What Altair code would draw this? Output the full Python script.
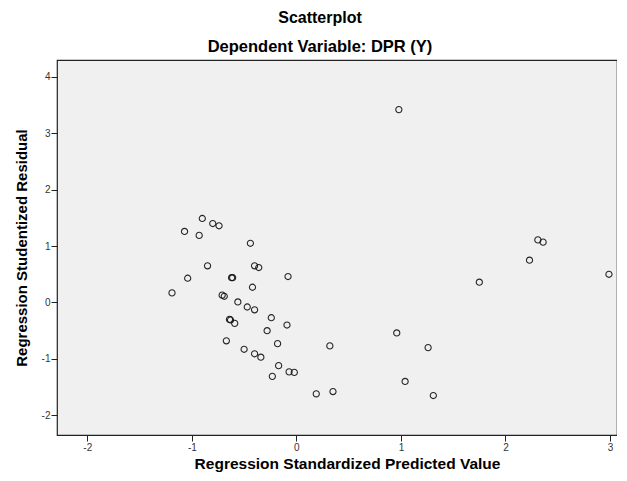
import altair as alt
import pandas as pd

pred = [0.98, -0.90, -0.80, -0.74, -1.07, -0.93, -0.44, -0.85, -0.40, -0.36,
        -1.04, -0.62, -0.61, -0.08, -0.42, -1.19, -0.71, -0.69, -0.56, -0.47,
        -0.40, -0.24, -0.09, -0.64, -0.63, -0.59, -0.28, -0.67, -0.18, -0.50,
        -0.40, -0.34, -0.17, -0.07, -0.02, -0.23, 0.19, 0.35, 0.32, 0.96,
        1.26, 1.04, 1.31, 1.75, 2.23, 2.31, 2.36, 2.99]
resid = [3.42, 1.49, 1.40, 1.36, 1.26, 1.19, 1.05, 0.65, 0.65, 0.62,
         0.43, 0.44, 0.44, 0.46, 0.27, 0.17, 0.13, 0.11, 0.01, -0.08,
         -0.13, -0.27, -0.40, -0.30, -0.31, -0.37, -0.50, -0.68, -0.73, -0.83,
         -0.91, -0.97, -1.12, -1.23, -1.24, -1.31, -1.62, -1.58, -0.77, -0.54,
         -0.80, -1.40, -1.65, 0.36, 0.75, 1.11, 1.07, 0.50]

df = pd.DataFrame({"pred": pred, "resid": resid})

FONT = "Liberation Sans"

chart = alt.Chart(df).mark_point(
    shape="circle", filled=False, color="#111111", strokeWidth=1.1, size=38, opacity=0.9
).encode(
    x=alt.X("pred:Q", title="Regression Standardized Predicted Value",
            scale=alt.Scale(domain=[-2.29, 3.067], nice=False, zero=False),
            axis=alt.Axis(values=[-2, -1, 0, 1, 2, 3], labelExpr="toString(datum.value)",
                          labelPadding=1, titlePadding=4, titleFontSize=15.5, titleX=290)),
    y=alt.Y("resid:Q", title="Regression Studentized Residual",
            scale=alt.Scale(domain=[-2.35, 4.30], nice=False, zero=False),
            axis=alt.Axis(values=[-2, -1, 0, 1, 2, 3, 4], labelExpr="toString(datum.value)",
                          labelPadding=1, titlePadding=12, titleFontSize=15)),
).properties(
    width=560, height=375,
    autosize=alt.AutoSizeParams(type="none"),
    padding={"left": 49, "top": 52, "right": 0, "bottom": 38},
    title=alt.TitleParams(
        text="Scatterplot", subtitle="Dependent Variable: DPR (Y)",
        font=FONT, fontSize=16, fontWeight="bold", color="#000000",
        subtitleFont=FONT, subtitleFontSize=16.5, subtitleFontWeight="bold",
        subtitleColor="#000000", subtitlePadding=13, anchor="middle", offset=5, dx=-17,
    ),
).configure_view(
    fill="#F0F0F0", stroke="#222222", strokeWidth=1.2
).configure_axis(
    domain=False, grid=False, ticks=True, tickSize=6, tickColor="#222222",
    labelFont=FONT, labelFontSize=10, labelColor="#333333",
    titleFont=FONT, titleFontWeight="bold", titleColor="#000000",
)

chart.save("out.html", embed_options={"renderer": "svg", "actions": False})
